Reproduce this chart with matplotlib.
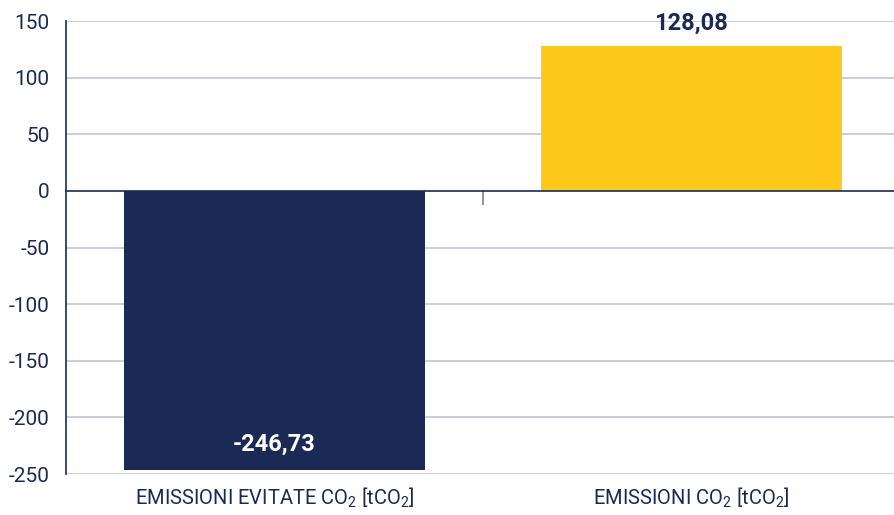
import matplotlib
matplotlib.use("Agg")
import matplotlib.pyplot as plt
import matplotlib.transforms as mtransforms

# emissions balance data
categories = ["EMISSIONI EVITATE CO$_2$ [tCO$_2$]", "EMISSIONI CO$_2$ [tCO$_2$]"]
values = [-246.73, 128.08]
value_labels = ["-246,73", "128,08"]
yticks = [150, 100, 50, 0, -50, -100, -150, -200, -250]

navy = "#1b2a55"
yellow = "#fec91b"
grid_col = "#c3c3d6"

plt.rcParams["font.family"] = ["Roboto", "DejaVu Sans"]
plt.rcParams["mathtext.fontset"] = "custom"
plt.rcParams["mathtext.rm"] = "Roboto"

fig = plt.figure(figsize=(8.95, 5.15), dpi=100)
ax = fig.add_axes([66 / 895, 41 / 515, 834 / 895, 453 / 515])

x = list(range(len(categories)))
ax.bar(x, values, width=0.722, color=[navy, yellow], zorder=2)

ax.set_xlim(-0.5, 1.5)
ax.set_ylim(-250, 150)
ax.set_yticks(yticks)
ax.set_yticklabels([str(t) for t in yticks])
ax.tick_params(axis="y", length=0, pad=12, labelsize=15, labelcolor=navy)

# horizontal gridlines
for t in yticks:
    if t != 0:
        ax.axhline(t, color=grid_col, lw=1.2, zorder=1)

# zero axis with a tick between the two categories
ax.spines["bottom"].set_position(("data", 0))
ax.spines["bottom"].set_color(navy)
ax.spines["bottom"].set_linewidth(1.2)
ax.spines["bottom"].set_zorder(3)
ax.set_xticks([0.5])
ax.set_xticklabels([""])
ax.tick_params(axis="x", length=10, width=1.2, color="#7a7f99", direction="out")
ax.spines["left"].set_color(navy)
ax.spines["left"].set_linewidth(1.2)
ax.spines["top"].set_visible(False)
ax.spines["right"].set_visible(False)

# category labels under the plot
trans = mtransforms.blended_transform_factory(ax.transData, ax.transAxes)
for xi, name in zip(x, categories):
    ax.text(xi, -0.052, name, transform=trans, ha="center", va="center",
            fontsize=14.5, color=navy)

# value labels
for xi, v, lab in zip(x, values, value_labels):
    if v < 0:
        ax.annotate(lab, (xi, v), xytext=(0, 19), textcoords="offset points",
                    ha="center", va="center", fontsize=17, fontweight="bold",
                    color="white", zorder=4)
    else:
        ax.annotate(lab, (xi, v), xytext=(0, 16), textcoords="offset points",
                    ha="center", va="center", fontsize=17, fontweight="bold",
                    color=navy, zorder=4)

fig.savefig("out.png", dpi=100)
